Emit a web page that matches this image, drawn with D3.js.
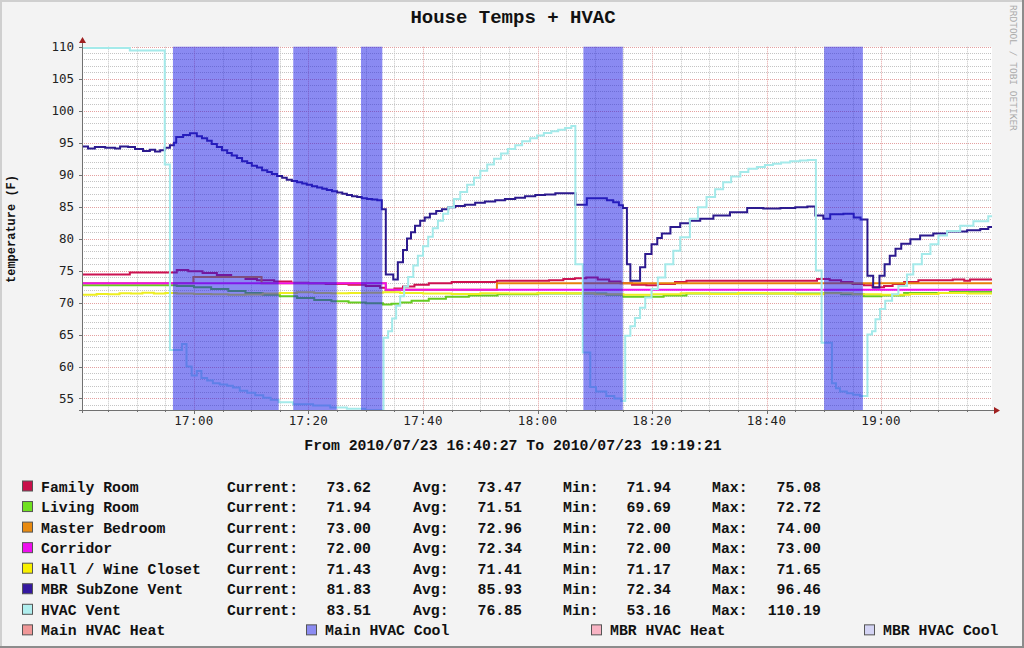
<!DOCTYPE html>
<html><head><meta charset="utf-8">
<script src="https://cdn.jsdelivr.net/npm/d3@7"></script>
<style>html,body{margin:0;padding:0;background:#f3f3f3;}svg{display:block}</style>
</head><body><svg id="c" width="1024" height="648"></svg>
<script>
// ---------------- data ----------------
const title = "House Temps + HVAC";
const yTitle = "temperature (F)";
const rangeText = "From 2010/07/23 16:40:27 To 2010/07/23 19:19:21";
const startTime = [2010, 6, 23, 16, 40, 27];
const endTime = [2010, 6, 23, 19, 19, 21];
const yTicks = [55, 60, 65, 70, 75, 80, 85, 90, 95, 100, 105, 110];
const timeTicks = ["17:00", "17:20", "17:40", "18:00", "18:20", "18:40", "19:00"];

// series points: [minutes after 17:00, temperature]
const familyRoom = [[-19.55,74.4],[-11.2,74.7],[-3.0,75.08],[-1.0,74.9],[1.5,74.6],[4.0,74.3],[6.5,74.0],[9.0,73.7],[11.0,73.5],[14.0,73.3],[17.0,73.1],[20.0,73.0],[23.0,72.9],[27.0,72.8],[30.0,72.6],[32.5,72.3],[33.5,71.94],[35.0,72.2],[36.5,72.5],[38.5,72.8],[41.0,73.0],[45.0,73.2],[52.9,73.4],[62.0,73.5],[64.5,73.7],[66.5,73.8],[68.5,73.9],[70.5,73.6],[72.5,73.3],[74.5,73.0],[76.5,72.8],[79.0,72.7],[81.0,72.9],[84.0,73.2],[86.0,73.4],[108.8,73.7],[111.0,73.5],[113.0,73.2],[115.0,72.9],[117.0,72.7],[118.5,72.4],[120.5,72.6],[122.0,72.9],[124.0,73.2],[126.5,73.5],[132.5,73.6],[134.5,73.4],[135.5,73.6],[139.35,73.62]];
const livingRoom = [[-19.55,72.7],[-3.0,72.6],[0,72.4],[3,72.1],[6,71.8],[9,71.5],[12,71.2],[15,71.0],[18,70.7],[21,70.4],[24,70.2],[27,70.0],[30,69.9],[33,69.69],[34.5,69.8],[36,70.0],[38,70.3],[41,70.6],[44,70.9],[48,71.1],[53,71.3],[60,71.4],[68,71.4],[72,71.2],[75,70.9],[79,70.9],[82,71.1],[86,71.4],[110,71.5],[113,71.3],[117,71.0],[120,71.1],[124,71.5],[132,71.7],[139.35,71.94]];
const masterBedroom = [[-19.55,73],[-0.1,74],[11.8,73],[33.5,72],[52.9,73],[139.35,73]];
const corridor = [[-19.55,73],[33.5,72],[139.35,72]];
const hallWineCloset = [[-19.55,71.2],[-17,71.35],[-15,71.3],[-13,71.45],[-11,71.4],[-9,71.55],[-7,71.4],[-5,71.5],[-3,71.4],[0,71.35],[3,71.3],[6,71.2],[9,71.25],[12,71.4],[15,71.5],[18,71.6],[21,71.5],[24,71.45],[27,71.5],[30,71.55],[33,71.6],[36,71.5],[40,71.4],[45,71.35],[50,71.45],[55,71.4],[60,71.5],[65,71.45],[70,71.3],[75,71.2],[80,71.3],[85,71.45],[90,71.35],[95,71.5],[100,71.4],[105,71.3],[110,71.45],[115,71.3],[120,71.2],[125,71.35],[130,71.5],[135,71.4],[139.35,71.43]];
const mbrSubZoneVent = [[-19.55,94.4],[-18.5,94.1],[-17.3,94.3],[-15.5,94.2],[-13.8,94.1],[-12.9,94.4],[-11.5,94.3],[-10.3,94.0],[-8.9,93.7],[-7.7,93.9],[-6.8,93.6],[-5.9,93.8],[-5.1,94.2],[-4.2,94.6],[-3.5,95.0],[-3.1,95.9],[-1.9,96.2],[-0.7,96.46],[0.5,96.0],[1.4,95.7],[2.3,95.3],[3.1,94.8],[4.0,94.3],[4.9,93.8],[5.8,93.4],[6.6,93.0],[7.5,92.6],[8.4,92.1],[9.3,91.8],[10.1,91.4],[11.0,91.1],[11.9,90.7],[12.8,90.4],[13.6,90.1],[14.5,89.8],[15.4,89.5],[16.2,89.2],[17.1,89.0],[18.0,88.8],[18.9,88.6],[19.7,88.4],[20.6,88.2],[21.5,88.0],[22.4,87.8],[23.2,87.6],[24.1,87.4],[25.0,87.2],[25.9,87.0],[26.7,86.8],[27.6,86.6],[28.5,86.5],[29.3,86.3],[30.2,86.2],[31.1,86.1],[32.0,86.0],[32.8,84.6],[33.5,74.4],[34.8,73.6],[35.6,76.3],[36.5,78.2],[37.2,80.0],[37.9,81.0],[38.6,82.0],[39.5,82.8],[40.3,83.3],[41.2,83.9],[42.3,84.3],[43.3,84.6],[44.4,84.9],[45.6,85.1],[47.3,85.3],[49.1,85.6],[50.8,85.8],[52.6,86.0],[54.3,86.2],[56.1,86.4],[57.8,86.6],[59.6,86.8],[61.3,86.9],[63.1,87.1],[66.6,85.3],[68.6,86.3],[72.1,86.0],[73.2,85.7],[74.2,85.2],[74.9,84.8],[75.6,76.0],[76.2,73.4],[77.9,75.5],[78.8,77.6],[79.9,79.1],[80.9,80.1],[81.7,80.8],[83.2,81.8],[84.9,82.4],[86.6,82.8],[88.4,83.1],[90.7,83.6],[93.6,84.1],[96.6,84.8],[99.4,84.7],[102.4,84.8],[105.0,84.9],[107.1,85.0],[108.5,83.6],[109.9,83.1],[111.1,83.8],[113.4,83.9],[115.2,83.3],[116.4,83.0],[117.6,74.2],[118.6,72.34],[119.7,74.2],[120.6,76.0],[121.5,77.3],[122.5,78.4],[123.5,79.2],[125.1,79.9],[126.8,80.5],[129.1,80.8],[131.5,81.1],[135.0,81.3],[137.3,81.5],[138.7,81.83],[139.35,81.83]];
const hvacVent = [[-19.55,109.8],[-11.2,109.4],[-5.1,91.6],[-4.2,62.6],[-2.1,63.5],[-1.3,60.0],[-0.4,58.6],[0.5,59.3],[1.3,58.2],[2.3,57.8],[3.3,57.4],[4.5,57.2],[5.8,57.0],[6.8,56.7],[8.0,56.2],[9.3,55.9],[10.7,55.5],[12.1,55.1],[13.4,54.8],[14.8,54.4],[17.3,54.1],[20.8,53.9],[23.8,53.6],[26.7,53.4],[29.9,53.16],[33.1,64.5],[33.9,65.5],[34.6,67.5],[35.3,69.5],[36.0,71.0],[36.7,72.5],[37.4,74.0],[38.3,75.8],[39.1,77.3],[40.0,78.8],[40.9,80.3],[41.7,81.6],[42.6,82.8],[43.5,83.9],[44.4,84.9],[45.4,86.2],[46.5,87.3],[47.7,88.4],[48.9,89.5],[50.0,90.6],[51.2,91.6],[52.4,92.5],[53.6,93.3],[54.8,94.0],[56.1,94.6],[57.3,95.2],[58.7,95.7],[59.9,96.1],[61.1,96.5],[62.4,96.8],[63.6,97.0],[64.8,97.3],[65.9,97.6],[66.6,76.0],[67.9,62.2],[69.2,56.8],[70.2,56.1],[72.0,55.4],[73.4,55.0],[74.6,54.6],[75.3,64.8],[76.2,66.3],[77.0,67.6],[77.9,69.2],[78.8,70.8],[79.9,72.1],[81.0,73.9],[82.3,76.0],[83.7,78.1],[84.9,80.2],[86.6,83.1],[88.0,84.9],[89.5,86.5],[91.0,87.7],[92.4,88.8],[93.8,89.7],[95.4,90.4],[96.8,90.9],[98.3,91.2],[99.7,91.5],[101.1,91.7],[102.5,91.9],[104.1,92.1],[105.8,92.2],[107.2,92.3],[108.6,75.0],[109.6,63.7],[111.4,57.4],[112.1,56.6],[112.8,56.1],[114.0,55.8],[115.1,55.6],[116.3,55.4],[117.6,65.0],[118.4,65.5],[119.0,67.4],[119.8,69.0],[120.7,70.3],[121.9,71.3],[123.0,72.6],[124.5,74.4],[125.6,76.0],[127.1,77.6],[128.6,79.1],[130.0,80.5],[131.5,81.2],[133.8,82.0],[136.1,82.7],[138.7,83.51],[139.35,83.51]];
// Main HVAC Cool on-periods: [start, end] minutes after 17:00
const mainHvacCool = [[-3.67,14.79],[17.34,24.93],[29.17,32.89],[68.0,74.88],[110.04,116.8]];

// legend
const seriesNames = ["Family Room","Living Room","Master Bedroom","Corridor","Hall / Wine Closet","MBR SubZone Vent","HVAC Vent"];
const currentVals = [73.62,71.94,73.00,72.00,71.43,81.83,83.51];
const avgVals = [73.47,71.51,72.96,72.34,71.41,85.93,76.85];
const minVals = [71.94,69.69,72.00,72.00,71.17,72.34,53.16];
const maxVals = [75.08,72.72,74.00,73.00,71.65,96.46,110.19];
const areaNames = ["Main HVAC Heat","Main HVAC Cool","MBR HVAC Heat","MBR HVAC Cool"];

// ---------------- styles ----------------
const lineColors = ["#cc1150","#66cc22","#e8820c","#ee11ee","#eeee22","#2c1a8e","#a4eaea"];
const swatchColors = ["#c8104a","#70e020","#e88a10","#ee10ee","#f8f000","#3418a0","#b0eeee"];
const areaSwatch = ["#f09898","#8c8cf2","#f8b4c4","#d4d4f4"];
const coolFill = "rgba(30,30,230,0.52)";
const mono = "'Liberation Mono', 'Courier New', monospace";
const tickFont = "'DejaVu Sans Mono', monospace";

const svg = d3.select("#c");
const W = 1024, H = 648;
const base = new Date(2010, 6, 23, 17, 0, 0);
const at = m => new Date(base.getTime() + m * 60000);
const t0 = new Date(...startTime), t1 = new Date(...endTime);
const x = d3.scaleTime().domain([t0, t1]).range([82, 992]);
const y = d3.scaleLinear().domain([53.2, 110]).range([410, 46.7]);
const [py1, py0] = y.range();

// background + frame
svg.append("rect").attr("width", W).attr("height", H).attr("fill", "#f3f3f3");
svg.append("rect").attr("x", x.range()[0]).attr("y", py0).attr("width", x.range()[1] - x.range()[0]).attr("height", py1 - py0).attr("fill", "#ffffff");
svg.append("rect").attr("x", 0).attr("y", 0).attr("width", W).attr("height", 2).attr("fill", "#cfcfcf");
svg.append("rect").attr("x", 0).attr("y", 0).attr("width", 2).attr("height", H).attr("fill", "#cfcfcf");
svg.append("rect").attr("x", 0).attr("y", H - 2).attr("width", W).attr("height", 2).attr("fill", "#8c8c8c");
svg.append("rect").attr("x", W - 2).attr("y", 0).attr("width", 2).attr("height", H).attr("fill", "#8c8c8c");

// grid
const g = svg.append("g");
const minorT = d3.timeMinute.every(5).range(t0, t1);
const majorT = d3.timeMinute.every(20).range(t0, t1);
const minorV = d3.range(54, 111, 1).filter(v => v % 5 !== 0);
g.selectAll(".hm").data(minorV).join("line")
  .attr("x1", x.range()[0]).attr("x2", x.range()[1]).attr("y1", d => Math.round(y(d)) + 0.5).attr("y2", d => Math.round(y(d)) + 0.5)
  .attr("stroke", "#c4c4c4").attr("stroke-width", 1).attr("stroke-dasharray", "1,1");
g.selectAll(".vm").data(minorT.filter(t => t.getMinutes() % 20 !== 0)).join("line")
  .attr("x1", d => Math.round(x(d)) + 0.5).attr("x2", d => Math.round(x(d)) + 0.5).attr("y1", py0).attr("y2", py1)
  .attr("stroke", "#c4c4c4").attr("stroke-width", 1).attr("stroke-dasharray", "1,1");
g.selectAll(".hM").data(yTicks).join("line")
  .attr("x1", x.range()[0]).attr("x2", x.range()[1]).attr("y1", d => Math.round(y(d)) + 0.5).attr("y2", d => Math.round(y(d)) + 0.5)
  .attr("stroke", "#e4a0a0").attr("stroke-width", 1).attr("stroke-dasharray", "1,1");
g.selectAll(".vM").data(majorT).join("line")
  .attr("x1", d => Math.round(x(d)) + 0.5).attr("x2", d => Math.round(x(d)) + 0.5).attr("y1", py0).attr("y2", py1)
  .attr("stroke", "#e4a0a0").attr("stroke-width", 1).attr("stroke-dasharray", "1,1");

// lines
const allSeries = [familyRoom, livingRoom, masterBedroom, corridor, hallWineCloset, mbrSubZoneVent, hvacVent];
const line = d3.line().x(d => x(at(d[0]))).y(d => y(d[1])).curve(d3.curveStepAfter);
const clip = svg.append("clipPath").attr("id", "pc").append("rect")
  .attr("x", x.range()[0]).attr("y", py0 - 2).attr("width", x.range()[1] - x.range()[0]).attr("height", py1 - py0 + 2);
const lg = svg.append("g").attr("clip-path", "url(#pc)");
allSeries.forEach((s, i) => {
  lg.append("path").attr("d", line(s)).attr("fill", "none").attr("stroke", lineColors[i])
    .attr("stroke-width", 2).attr("stroke-linejoin", "miter");
});

// cooling bands (translucent, drawn over lines)
svg.append("g").selectAll("rect").data(mainHvacCool).join("rect")
  .attr("x", d => x(at(d[0]))).attr("width", d => x(at(d[1])) - x(at(d[0])))
  .attr("y", y(110)).attr("height", py1 - y(110)).attr("fill", coolFill);

// axes
const ax = svg.append("g");
ax.append("line").attr("x1", 82.5).attr("x2", 82.5).attr("y1", py1 + 3).attr("y2", 42).attr("stroke", "#707070");
ax.append("line").attr("x1", 79).attr("x2", 995).attr("y1", 410.5).attr("y2", 410.5).attr("stroke", "#707070");
ax.append("path").attr("d", "M79,43 L86,43 L82.5,37 Z").attr("fill", "#a02020");
ax.append("path").attr("d", "M994,407 L994,414 L1000,410.5 Z").attr("fill", "#a02020");
// ticks
ax.selectAll(".yt").data(yTicks).join("line").attr("x1", 79).attr("x2", 82).attr("y1", d => Math.round(y(d)) + 0.5).attr("y2", d => Math.round(y(d)) + 0.5).attr("stroke", "#707070");
ax.selectAll(".xt").data(minorT).join("line").attr("x1", d => Math.round(x(d)) + 0.5).attr("x2", d => Math.round(x(d)) + 0.5).attr("y1", 410).attr("y2", d => d.getMinutes() % 20 === 0 ? 414 : 412).attr("stroke", "#707070");

ax.selectAll(".yl").data(yTicks).join("text")
  .attr("x", 74).attr("y", d => y(d)).attr("dy", "0.36em").attr("text-anchor", "end")
  .attr("font-family", tickFont).attr("font-size", 12.5).attr("fill", "#222").text(d => d);
ax.selectAll(".xl").data(timeTicks).join("text")
  .attr("x", d => { const [h, m] = d.split(":").map(Number); return x(new Date(2010, 6, 23, h, m, 0)); })
  .attr("y", 425).attr("text-anchor", "middle").attr("letter-spacing", 0.4)
  .attr("font-family", tickFont).attr("font-size", 12.5).attr("fill", "#222").text(d => d);

// titles
svg.append("text").attr("x", 513).attr("y", 23).attr("text-anchor", "middle")
  .attr("font-family", mono).attr("font-weight", "bold").attr("font-size", 19).attr("fill", "#111").text(title);
svg.append("text").attr("transform", "translate(15,229) rotate(-90)").attr("text-anchor", "middle")
  .attr("font-family", mono).attr("font-weight", "bold").attr("font-size", 12).attr("fill", "#111").text(yTitle);
svg.append("text").attr("x", 513).attr("y", 450).attr("text-anchor", "middle")
  .attr("font-family", mono).attr("font-weight", "bold").attr("font-size", 14.8).attr("fill", "#111").text(rangeText);
svg.append("text").attr("transform", "translate(1010,5) rotate(90)")
  .attr("font-family", tickFont).attr("font-size", 9.5).attr("fill", "#aaaaaa").text("RRDTOOL / TOBI OETIKER");

// legend
const leg = svg.append("g").attr("font-family", mono).attr("font-weight", "bold").attr("font-size", 14.8).attr("fill", "#111");
const rowY = i => 491.5 + i * 20.55;
seriesNames.forEach((n, i) => {
  const by = rowY(i);
  leg.append("rect").attr("x", 22.5).attr("y", by - 10.5).attr("width", 10).attr("height", 10)
    .attr("fill", swatchColors[i]).attr("stroke", "#555").attr("stroke-width", 1);
  leg.append("text").attr("x", 41).attr("y", by).text(n);
  leg.append("text").attr("x", 227).attr("y", by).text("Current:");
  leg.append("text").attr("x", 371).attr("y", by).attr("text-anchor", "end").text(currentVals[i].toFixed(2));
  leg.append("text").attr("x", 413).attr("y", by).text("Avg:");
  leg.append("text").attr("x", 522).attr("y", by).attr("text-anchor", "end").text(avgVals[i].toFixed(2));
  leg.append("text").attr("x", 563).attr("y", by).text("Min:");
  leg.append("text").attr("x", 671).attr("y", by).attr("text-anchor", "end").text(minVals[i].toFixed(2));
  leg.append("text").attr("x", 712).attr("y", by).text("Max:");
  leg.append("text").attr("x", 821).attr("y", by).attr("text-anchor", "end").text(maxVals[i].toFixed(2));
});
const areaX = [22, 306, 591, 864];
areaNames.forEach((n, i) => {
  const by = rowY(7);
  leg.append("rect").attr("x", areaX[i] + 0.5).attr("y", by - 10.5).attr("width", 10).attr("height", 10)
    .attr("fill", areaSwatch[i]).attr("stroke", "#555").attr("stroke-width", 1);
  leg.append("text").attr("x", areaX[i] + 19).attr("y", by).text(n);
});
</script></body></html>
